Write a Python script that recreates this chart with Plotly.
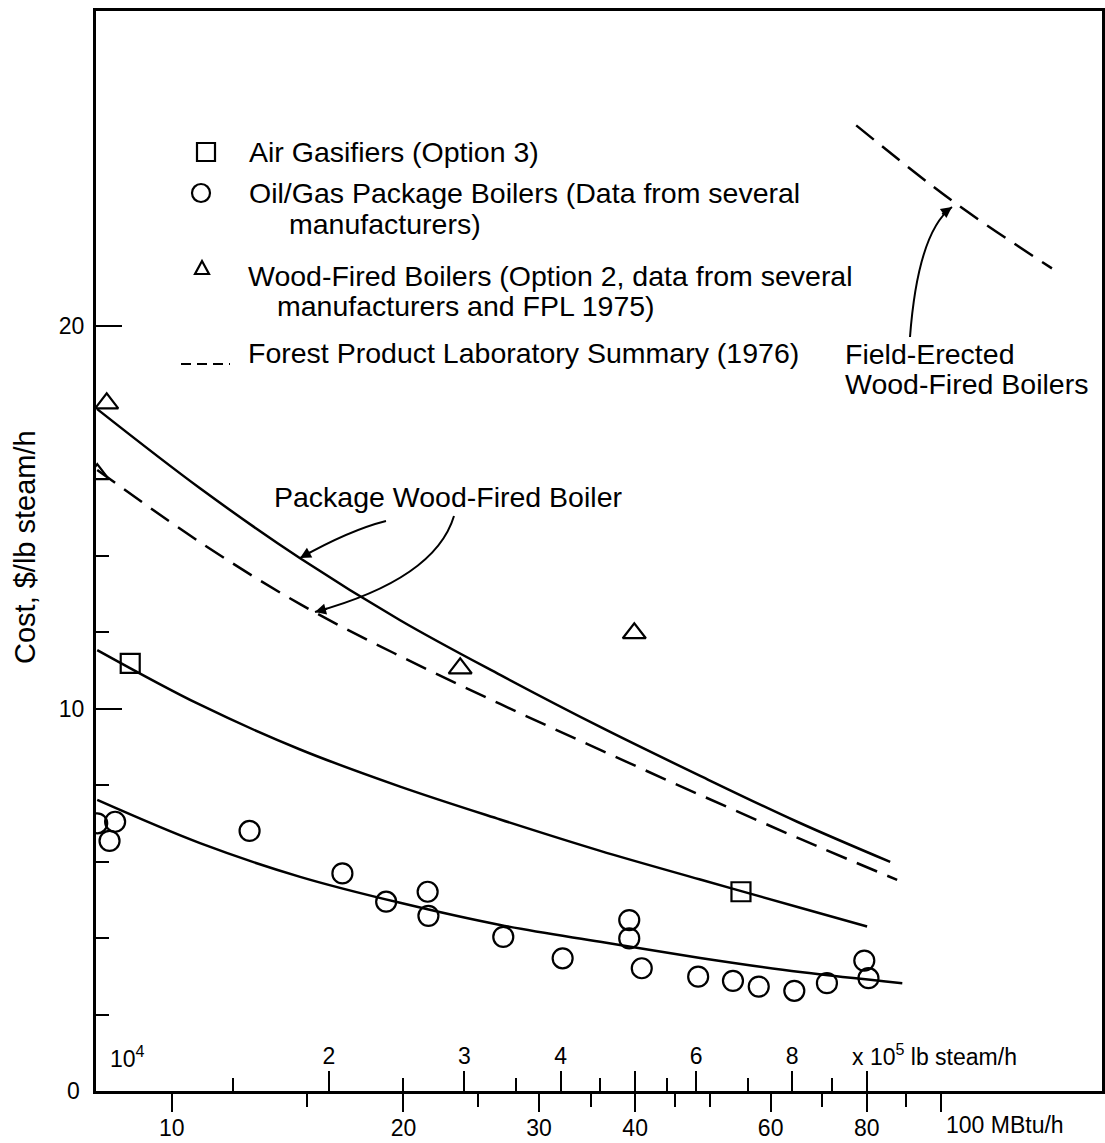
import math
import plotly.graph_objects as go

# ---- values: x in MBtu/h (log), y in $/lb steam/h ----
air_gas_x = [8.83, 54.9]
air_gas_y = [11.18, 5.21]

oil_gas_x = [8.0, 8.44, 8.30, 12.62, 16.66, 18.99, 21.5, 21.55, 26.96, 32.2,
             39.3, 39.3, 40.8, 48.3, 53.6, 57.9, 64.4, 71.0, 79.4, 80.4]
oil_gas_y = [7.0, 7.04, 6.54, 6.80, 5.69, 4.95, 5.21, 4.58, 4.03, 3.47,
             4.47, 3.99, 3.21, 2.99, 2.88, 2.73, 2.62, 2.82, 3.41, 2.95]

wood_x = [8.23, 8.0, 23.7, 39.9]
wood_y = [17.98, 16.13, 11.05, 11.97]

# fitted curves
pkg_wood_x = [8.0, 10.88, 14.68, 19.80, 26.71, 36.03, 48.6, 64.96, 85.8]
pkg_wood_y = [17.83, 15.76, 13.93, 12.31, 10.88, 9.52, 8.24, 7.04, 5.99]
fpl_x = [8.0, 10.88, 14.68, 19.80, 26.71, 36.03, 48.6, 65.55, 87.6]
fpl_y = [16.24, 14.35, 12.73, 11.37, 10.12, 8.92, 7.74, 6.59, 5.52]
air_fit_x = [8.0, 10.88, 14.68, 19.80, 26.71, 36.03, 48.6, 65.55, 80.07]
air_fit_y = [11.53, 10.10, 8.93, 7.96, 7.10, 6.28, 5.53, 4.79, 4.30]
oil_fit_x = [8.0, 10.88, 14.68, 19.80, 26.71, 36.03, 48.6, 65.55, 88.96]
oil_fit_y = [7.61, 6.48, 5.60, 4.92, 4.34, 3.90, 3.48, 3.11, 2.82]
field_x = [77.5, 103.7, 139.2]
field_y = [25.25, 23.25, 21.51]

# axis ticks
mbtu_major = [10, 20, 30, 40, 60, 80, 100]
mbtu_labels = ['10', '20', '30', '40', '60', '80', '']
mbtu_minor = [15, 25, 35, 45, 50, 70, 90]
lb_major = [2e4, 3e4, 4e4, 5e4, 6e4, 8e4, 1e5]
lb_labels = ['2', '3', '4', '', '6', '8', '']
lb_minor = [1.5e4, 2.5e4, 3.5e4, 4.5e4, 5.5e4, 7e4, 9e4]
cost_major = [0, 10, 20]
cost_labels = ['', '10', '20']
cost_minor = [2, 4, 6, 8, 12, 14]
MBTU_PER_1E4_LB = 8.0

x_lo, x_hi = 0.9015, 2.2087
y_lo, y_hi = 0, 28.24

FONT = 'Liberation Sans, Arial, Helvetica, sans-serif'
W, H = 1105, 1143
L, R, T, B = 96, 3, 11, 52


# pixel -> paper helpers for the annotation layer
def px(x):
    return (x - L) / (W - L - R)


def py(y):
    return (H - B - y) / (H - B - T)


fig = go.Figure()

solid = dict(color='black', width=2.5, shape='spline')
dashed = dict(color='black', width=2.5, dash='22px,11px', shape='spline')
fig.add_trace(go.Scatter(x=pkg_wood_x, y=pkg_wood_y, mode='lines', line=solid))
fig.add_trace(go.Scatter(x=fpl_x, y=fpl_y, mode='lines', line=dashed))
fig.add_trace(go.Scatter(x=air_fit_x, y=air_fit_y, mode='lines', line=solid))
fig.add_trace(go.Scatter(x=oil_fit_x, y=oil_fit_y, mode='lines', line=solid))
fig.add_trace(go.Scatter(x=field_x, y=field_y, mode='lines', line=dashed))

fig.add_trace(go.Scatter(x=oil_gas_x, y=oil_gas_y, mode='markers',
                         marker=dict(symbol='circle-open', size=20, color='black',
                                     line=dict(width=2.2, color='black'))))
fig.add_trace(go.Scatter(x=air_gas_x, y=air_gas_y, mode='markers',
                         marker=dict(symbol='square-open', size=19, color='black',
                                     line=dict(width=2.2, color='black'))))
fig.add_trace(go.Scatter(x=wood_x, y=wood_y, mode='markers',
                         marker=dict(symbol='triangle-up-open', size=20, color='black',
                                     line=dict(width=2.2, color='black'))))
# invisible trace to activate the lb steam/h axis
fig.add_trace(go.Scatter(x=[lb_major[0]], y=[None], xaxis='x2', mode='markers',
                         marker=dict(opacity=0), hoverinfo='skip'))

tick_font = dict(family=FONT, size=23, color='black')
lb_offset = math.log10(1e4 / MBTU_PER_1E4_LB)

fig.update_layout(
    width=W, height=H,
    margin=dict(l=L, r=R, t=T, b=B),
    paper_bgcolor='white', plot_bgcolor='white',
    showlegend=False,
    font=dict(family=FONT, size=28, color='black'),
    xaxis=dict(type='log', range=[x_lo, x_hi], showgrid=False, zeroline=False,
               automargin=False,
               showline=True, linewidth=3, linecolor='black', mirror=True,
               tickmode='array', tickvals=mbtu_major, ticktext=mbtu_labels,
               ticks='outside', ticklen=18, tickwidth=2, tickcolor='black',
               tickfont=tick_font, ticklabelstandoff=-4,
               minor=dict(tickmode='array', tickvals=mbtu_minor, ticks='outside',
                          ticklen=13, tickwidth=2, tickcolor='black', showgrid=False)),
    xaxis2=dict(type='log', range=[x_lo + lb_offset, x_hi + lb_offset],
                overlaying='x', anchor='y', side='bottom', automargin=False,
                showgrid=False, zeroline=False, showline=False,
                tickmode='array', tickvals=lb_major, ticktext=lb_labels,
                ticks='inside', ticklen=20, tickwidth=2, tickcolor='black',
                ticklabelposition='inside', ticklabelstandoff=4, tickfont=tick_font,
                minor=dict(tickmode='array', tickvals=lb_minor, ticks='inside',
                           ticklen=13, tickwidth=2, tickcolor='black', showgrid=False)),
    yaxis=dict(range=[y_lo, y_hi], showgrid=False, zeroline=False, automargin=False,
               showline=True, linewidth=3, linecolor='black', mirror=True,
               tickmode='array', tickvals=cost_major, ticktext=cost_labels,
               ticks='inside', ticklen=26, tickwidth=2, tickcolor='black',
               tickfont=tick_font, ticklabelstandoff=4,
               minor=dict(tickmode='array', tickvals=cost_minor, ticks='inside',
                          ticklen=13, tickwidth=2, tickcolor='black', showgrid=False)),
)

# ---- legend drawn by hand ----
shapes = [
    dict(type='rect', x0=px(197), x1=px(215), y0=py(143), y1=py(161)),
    dict(type='circle', x0=px(192), x1=px(210), y0=py(184), y1=py(202)),
    dict(type='path', path='M %f,%f L %f,%f L %f,%f Z' % (
        px(195), py(274), px(209), py(274), px(202), py(261))),
    dict(type='line', x0=px(181), x1=px(230), y0=py(364), y1=py(364),
         line=dict(dash='10px,6px')),
]
for s in shapes:
    s.update(xref='paper', yref='paper')
    s.setdefault('line', {})
    s['line'].update(color='black', width=2.2)
    fig.add_shape(**s)

# curved pointer arrows (quadratic paths) for the curve labels
curves = [
    ((386, 521), (350, 530), (300, 558)),
    ((454, 516), (435, 579), (315, 612)),
    ((910, 337), (918, 232), (952, 207)),
]
for p0, c, p1 in curves:
    fig.add_shape(type='path', xref='paper', yref='paper',
                  path='M %f,%f Q %f,%f %f,%f' % (px(p0[0]), py(p0[1]), px(c[0]), py(c[1]),
                                                 px(p1[0]), py(p1[1])),
                  line=dict(color='black', width=2))
    dx, dy = c[0] - p1[0], c[1] - p1[1]
    n = math.hypot(dx, dy)
    fig.add_annotation(x=px(p1[0]), y=py(p1[1]), xref='paper', yref='paper',
                       ax=14 * dx / n, ay=14 * dy / n, text='', showarrow=True,
                       arrowhead=2, arrowsize=1.1, arrowwidth=2, arrowcolor='black')

labels = [
    ('Air Gasifiers (Option 3)', 247, 152),
    ('Oil/Gas Package Boilers (Data from several', 247, 193),
    ('manufacturers)', 287, 224),
    ('Wood-Fired Boilers (Option 2, data from several', 246, 276),
    ('manufacturers and FPL 1975)', 275, 306),
    ('Forest Product Laboratory Summary (1976)', 246, 353),
    ('Field-Erected', 843, 354),
    ('Wood-Fired Boilers', 843, 384),
    ('Package Wood-Fired Boiler', 272, 497),
]
for txt, x, y in labels:
    fig.add_annotation(x=px(x), y=py(y), xref='paper', yref='paper', text=txt,
                       showarrow=False, xanchor='left', yanchor='middle',
                       font=dict(family=FONT, size=28.5, color='black'))

axis_notes = [
    ('10<sup>4</sup>', 108, 1057, 'left'),
    ('x 10<sup>5</sup> lb steam/h', 850, 1055, 'left'),
    ('100 MBtu/h', 944, 1125, 'left'),
    ('0', 73, 1091, 'center'),
]
for txt, x, y, anchor in axis_notes:
    fig.add_annotation(x=px(x), y=py(y), xref='paper', yref='paper', text=txt,
                       showarrow=False, xanchor=anchor, yanchor='middle',
                       font=dict(family=FONT, size=23, color='black'))

# y axis title
fig.add_annotation(x=px(25), y=py(547), xref='paper', yref='paper',
                   text='Cost, $/lb steam/h', textangle=-90, showarrow=False,
                   xanchor='center', yanchor='middle',
                   font=dict(family=FONT, size=29, color='black'))

# drop the default page margin so the figure sits at the window's top-left corner
fig.write_html('out.html', config={'displayModeBar': False},
               post_script="document.body.style.margin='0';document.body.style.overflow='hidden';")
